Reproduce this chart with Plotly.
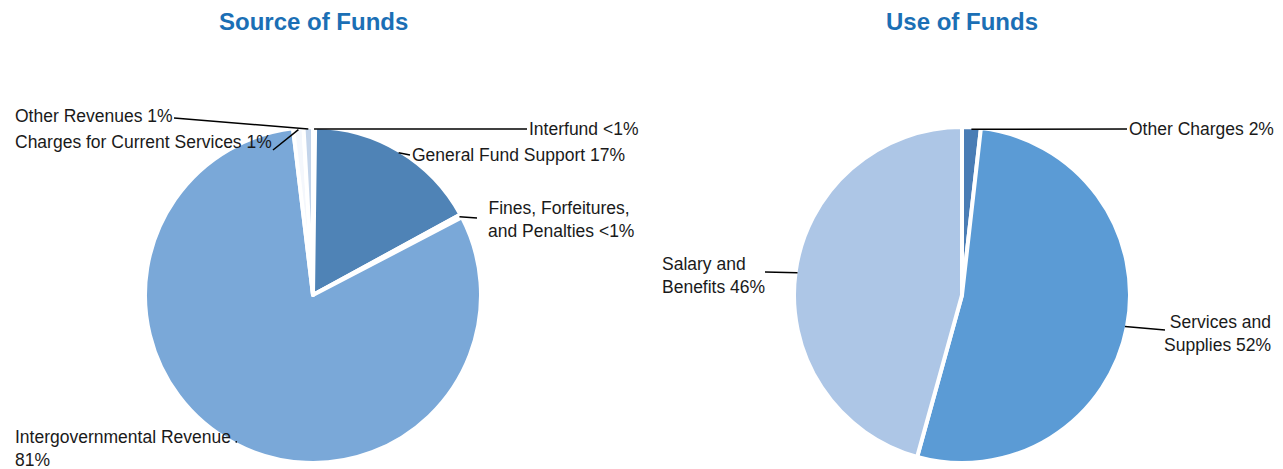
import math
import plotly.graph_objects as go

W, H = 1283, 469

# Source of funds (percent of total)
src_labels = ["Interfund", "General Fund Support", "Fines, Forfeitures, and Penalties",
              "Intergovernmental Revenue", "Charges for Current Services", "Other Revenues"]
src_values = [0.2, 16.85, 0.3, 80.75, 1.0, 0.9]
src_text = ["Interfund <1%", "General Fund Support 17%", "Fines, Forfeitures, <br>and Penalties <1%",
            "Intergovernmental Revenue<br>81%", "Charges for Current Services 1%", "Other Revenues 1%"]
src_colors = ["#3f70a8", "#4f83b6", "#7aa8d8", "#7aa8d8", "#f4f7fc", "#c3d4ea"]

# Use of funds (percent of total)
use_labels = ["Other Charges", "Services and Supplies", "Salary and Benefits"]
use_values = [1.8, 52.5, 45.7]
use_text = ["Other Charges 2%", "Services and<br>Supplies 52%", "Salary and<br>Benefits 46%"]
use_colors = ["#4a7db5", "#5b9bd5", "#adc6e6"]

FONT = "Liberation Sans, Arial, sans-serif"
TITLE_COLOR = "#1b6fb5"

# pie geometry in pixels: centre x, centre y, radius
left_pie = (313, 295, 166)
right_pie = (962, 295, 166)

# label placement in pixels: (line end x, line end y, text x, text y, xanchor, align)
src_place = [
    (527, 129, 527, 129, "left", "left"),
    (410, 155, 410, 155, "left", "left"),
    (477, 218, 636, 219, "right", "right"),
    (237, 442, 13, 448, "left", "left"),
    (273, 150, 13, 142, "left", "left"),
    (174, 118, 13, 116, "left", "left"),
]
use_place = [
    (1127, 129, 1127, 129, "left", "left"),
    (1165, 330, 1273, 333, "right", "right"),
    (765, 272, 660, 275, "left", "left"),
]


def px(x):
    return x / W


def py(y):
    return 1 - y / H


def domain(pie):
    # plotly shrinks the drawn radius by about half the border width
    cx, cy, r = pie
    r += 2
    return dict(x=[px(cx - r), px(cx + r)], y=[py(cy + r), py(cy - r)])


def edge_points(values, pie):
    cx, cy, r = pie
    total = sum(values)
    pts = []
    cum = 0
    for v in values:
        mid = (cum + v / 2) / total * 2 * math.pi
        pts.append((cx + r * math.sin(mid), cy - r * math.cos(mid)))
        cum += v
    return pts


fig = go.Figure()
for labels, values, colors, pie in [(src_labels, src_values, src_colors, left_pie),
                                    (use_labels, use_values, use_colors, right_pie)]:
    fig.add_trace(go.Pie(
        labels=labels, values=values, sort=False, direction="clockwise", rotation=0,
        marker=dict(colors=colors, line=dict(color="white", width=4)),
        textinfo="none", hoverinfo="label+percent", domain=domain(pie),
        showlegend=False,
    ))

shapes = []
annotations = []
for values, texts, places, pie in [(src_values, src_text, src_place, left_pie),
                                   (use_values, use_text, use_place, right_pie)]:
    for (ex, ey), txt, (lx, ly, tx, ty, xa, al) in zip(edge_points(values, pie), texts, places):
        shapes.append(dict(type="line", xref="paper", yref="paper",
                           x0=px(ex), y0=py(ey), x1=px(lx), y1=py(ly),
                           line=dict(color="black", width=1.5)))
        annotations.append(dict(text=txt, x=px(tx), y=py(ty), xref="paper", yref="paper",
                                xanchor=xa, yanchor="middle", align=al, showarrow=False,
                                font=dict(family=FONT, size=17.5, color="#1a1a1a")))

for title, cx in [("Source of Funds", left_pie[0]), ("Use of Funds", right_pie[0])]:
    annotations.append(dict(text="<b>" + title + "</b>", x=px(cx), y=py(21), xref="paper", yref="paper",
                            xanchor="center", yanchor="middle", showarrow=False,
                            font=dict(family=FONT, size=24, color=TITLE_COLOR)))

fig.update_layout(
    width=W, height=H,
    margin=dict(l=0, r=0, t=0, b=0),
    paper_bgcolor="white", plot_bgcolor="white",
    shapes=shapes, annotations=annotations,
)

# drop the browser's default body margin so the figure fills the window
fig.write_html("out.html", config={"displayModeBar": False},
               post_script="document.body.style.margin='0';")
